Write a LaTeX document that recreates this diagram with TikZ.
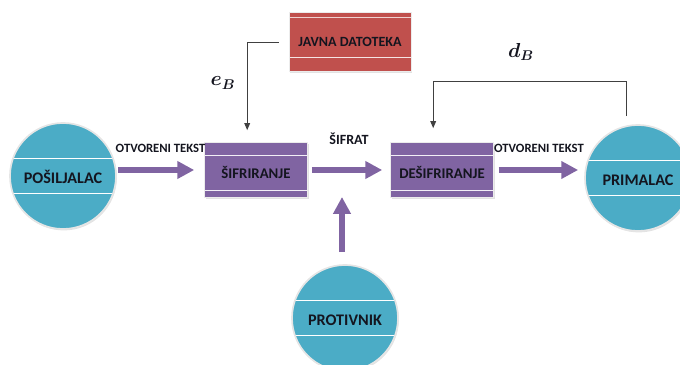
\documentclass[tikz,border=0pt]{standalone}
\usepackage{xcolor}
\usepackage{amsmath}
\usepackage{bm}
\usepackage{fontspec}
\setmainfont{Carlito}
\usetikzlibrary{arrows.meta,shadows}

\definecolor{partyblue}{HTML}{4BACC6}
\definecolor{stagepurple}{HTML}{8064A2}
\definecolor{keyred}{HTML}{C0504D}
\definecolor{textdark}{HTML}{14151F}

\tikzset{
	party/.style={circle, fill=partyblue, draw=gray!20, line width=1.2pt,
		minimum size=2.65cm, inner sep=0pt, text=textdark,
		font=\fontsize{11.5}{14}\selectfont\bfseries,
		text height=0.36cm, text depth=0pt,
		drop shadow={shadow xshift=0.6pt, shadow yshift=-1pt, fill=gray!45},
		path picture={
			\draw[white, line width=0.6pt] ([yshift=0.43cm]path picture bounding box.west) -- ([yshift=0.43cm]path picture bounding box.east);
			\draw[white, line width=0.6pt] ([yshift=-0.43cm]path picture bounding box.west) -- ([yshift=-0.43cm]path picture bounding box.east);
		}},
	stagebox/.style={rectangle, fill=stagepurple, draw=gray!15, line width=0.4pt,
		minimum width=2.575cm, minimum height=1.375cm, inner sep=0pt,
		text=textdark, font=\fontsize{10.5}{12}\selectfont\bfseries,
		text height=0.43cm, text depth=0pt,
		drop shadow={shadow xshift=1pt, shadow yshift=-1pt, fill=gray!45},
		path picture={
			\draw[white!90!stagepurple, line width=0.7pt] ([yshift=-0.325cm]path picture bounding box.north west) -- ([yshift=-0.325cm]path picture bounding box.north east);
			\draw[white!90!stagepurple, line width=0.7pt] ([yshift=0.175cm]path picture bounding box.south west) -- ([yshift=0.175cm]path picture bounding box.south east);
		}},
	keybox/.style={rectangle, fill=keyred, draw=gray!15, line width=0.4pt,
		minimum width=3.05cm, minimum height=1.475cm, inner sep=0pt,
		text=textdark, font=\fontsize{10}{12}\selectfont\bfseries,
		drop shadow={shadow xshift=1pt, shadow yshift=-1pt, fill=gray!45},
		path picture={
			\draw[white!75!keyred, line width=0.6pt] ([yshift=-0.125cm]path picture bounding box.north west) -- ([yshift=-0.125cm]path picture bounding box.north east);
			\draw[white!85!keyred, line width=0.6pt] ([yshift=0.36cm]path picture bounding box.south west) -- ([yshift=0.36cm]path picture bounding box.south east);
		}},
	flowlabel/.style={text=textdark, font=\fontsize{9}{11}\selectfont\bfseries, inner sep=2pt},
	keylabel/.style={text=textdark, font=\fontsize{14}{16}\selectfont},
	fat/.style={draw=stagepurple, line width=4pt, -{Triangle[length=12pt, width=12pt]}},
	keyline/.style={draw=black!75, line width=0.7pt, -{Triangle[length=5pt, width=4pt]}}
}

\begin{document}
\begin{tikzpicture}[x=0.025cm, y=-0.025cm]
				% the picture is laid out in pixels of the original
				\useasboundingbox (0,0) rectangle (680,365);
				
				\node[party] (sender) at (63,176) {POŠILJALAC};
				\node[party] (receiver) at (638,178) {PRIMALAC};
				\node[party] (enemy) at (345,318) {PROTIVNIK};
				\node[stagebox] (encrypt) at (256,170) {ŠIFRIRANJE};
				\node[stagebox] (decrypt) at (442,170) {DEŠIFRIRANJE};
				\node[keybox] (public) at (350,42) {JAVNA DATOTEKA};
				
				\node[keylabel] (ekey) at (223,83) {$\bm{e_B}$};
				\node[keylabel] (dkey) at (521,52) {$\bm{d_B}$};
				\coordinate (tap) at (342,197);
				
				% message flow
				\draw[fat, shorten <=1pt, shorten >=0.25cm] (sender.east |- encrypt.west) -- node[flowlabel, above=0.3cm] (plain1) {OTVORENI TEKST} (encrypt.west);
				\draw[fat, shorten <=0.1cm, shorten >=0.2cm] (encrypt.east) -- node[flowlabel, above=0.5cm, font=\fontsize{10}{12}\selectfont\bfseries] (cipher) {ŠIFRAT} (decrypt.west);
				\draw[fat, shorten <=0.12cm, shorten >=0.15cm] (decrypt.east) -- node[flowlabel, above=0.3cm] (plain2) {OTVORENI TEKST} (receiver.west |- decrypt.east);
				\draw[fat, line width=4.5pt, shorten <=0.3cm] (tap |- enemy.north) -- (tap);
				
				% keys
				\draw[keyline, shorten <=0.25cm, shorten >=0.3cm] (public.west) -| ([xshift=-0.22cm]encrypt.north);
				\draw[keyline, shorten >=0.35cm] ([xshift=-0.3cm, yshift=0.2cm]receiver.north) -- ++(0,-35) -| ([xshift=-0.22cm]decrypt.north);
				
\end{tikzpicture}
\end{document}
